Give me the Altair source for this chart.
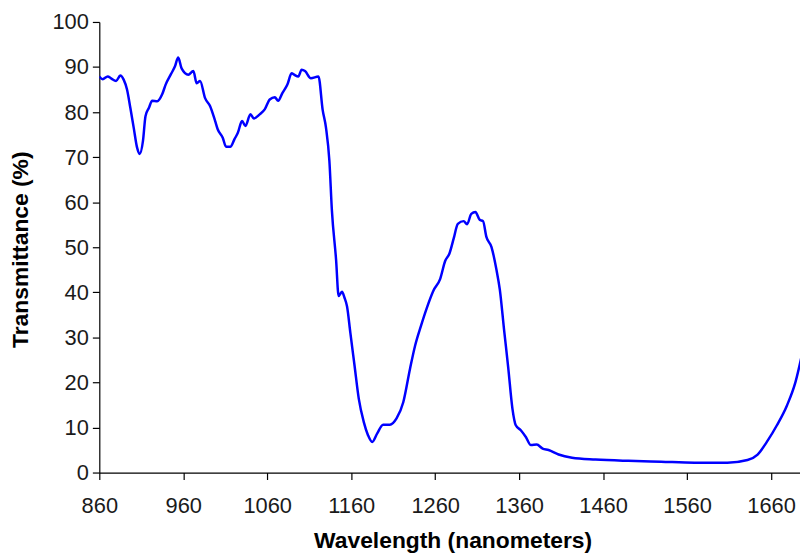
import altair as alt
import pandas as pd

wavelength = [860, 864, 870, 874, 880, 885, 889, 893, 897, 901, 905, 908, 912, 915, 919, 923,
              929, 935, 939, 945, 950, 954, 958, 966, 972, 976, 980, 986, 992, 998, 1001, 1007,
              1011, 1016, 1021, 1025, 1030, 1034, 1040, 1044, 1051, 1057, 1063, 1069, 1073, 1078,
              1084, 1089, 1092, 1097, 1101, 1105, 1112, 1121, 1126, 1130, 1134, 1137, 1142, 1145,
              1149, 1152, 1155, 1159, 1164, 1169, 1175, 1180, 1185, 1191, 1198, 1206, 1214, 1222,
              1230, 1236, 1243, 1250, 1258, 1266, 1272, 1277, 1282, 1287, 1294, 1298, 1303, 1308,
              1313, 1317, 1321, 1327, 1333, 1337, 1342, 1347, 1352, 1356, 1362, 1368, 1374, 1381,
              1388, 1395, 1407, 1423, 1451, 1490, 1529, 1569, 1608, 1632, 1644, 1655, 1667, 1679,
              1689, 1697]
transmittance = [87.9, 87.3, 87.9, 87.5, 86.9, 88.1, 87.2, 85.0, 80.9, 76.5, 72.1, 70.7, 73.6, 79.1,
                 80.9, 82.5, 82.4, 84.0, 86.1, 88.3, 90.1, 92.1, 89.7, 88.3, 89.1, 86.4, 86.9, 83.1,
                 81.3, 78.0, 76.2, 74.3, 72.3, 72.3, 74.0, 75.4, 78.0, 76.9, 79.5, 78.6, 79.5, 80.6,
                 82.8, 83.3, 82.5, 84.2, 86.1, 88.6, 88.3, 87.9, 89.4, 89.1, 87.5, 87.9, 80.5, 76.5,
                 69.2, 58.2, 47.2, 39.2, 40.1, 38.8, 36.9, 31.0, 23.7, 16.4, 11.2, 8.3, 6.8, 8.7,
                 10.6, 10.6, 12.0, 15.6, 23.0, 28.1, 32.5, 36.5, 40.4, 43.0, 47.0, 48.6, 51.9, 55.2,
                 55.8, 55.1, 57.4, 57.8, 56.1, 55.8, 52.3, 50.1, 45.0, 40.6, 31.8, 23.3, 14.2, 10.5,
                 9.4, 7.9, 6.1, 6.2, 5.3, 5.0, 4.0, 3.3, 2.9, 2.6, 2.4, 2.2, 2.2, 2.8, 4.0, 6.8,
                 10.5, 14.9, 20.0, 26.3]

x_ticks = [860, 960, 1060, 1160, 1260, 1360, 1460, 1560, 1660]
y_ticks = [0, 10, 20, 30, 40, 50, 60, 70, 80, 90, 100]

df = pd.DataFrame({"wl": wavelength, "t": transmittance})

FONT = "Liberation Sans"

chart = alt.Chart(df).mark_line(
    color="#0000FF", strokeWidth=2.5, clip=True, interpolate="monotone"
).encode(
    x=alt.X("wl:Q",
            scale=alt.Scale(domain=[860, 1694.5], nice=False, zero=False),
            axis=alt.Axis(values=x_ticks, format="d", title="Wavelength (nanometers)",
                          labelPadding=16, titleX=356, titleY=69,
                          titleBaseline="middle", titleAlign="center")),
    y=alt.Y("t:Q",
            scale=alt.Scale(domain=[0, 100], nice=False),
            axis=alt.Axis(values=y_ticks, format="d", title="Transmittance (%)",
                          labelPadding=4, titleX=-79, titleY=229, titleAngle=270,
                          titleBaseline="middle", titleAlign="center")),
).properties(
    width=706, height=454,
    autosize=alt.AutoSizeParams(type="none"),
    padding={"left": 92, "top": 12, "right": 0, "bottom": 80},
).configure_view(
    stroke=None
).configure_axis(
    grid=False,
    domainColor="#000000", domainWidth=1.2,
    tickColor="#000000", tickWidth=1.2, tickSize=7,
    labelFont=FONT, labelFontSize=22, labelColor="#1a1a1a",
    labelFlush=False, labelOverlap=False, labelBound=False,
    titleFont=FONT, titleFontSize=23, titleFontWeight="bold", titleColor="#000000",
)

chart.save("out.html", embed_options={"renderer": "svg", "actions": False})
